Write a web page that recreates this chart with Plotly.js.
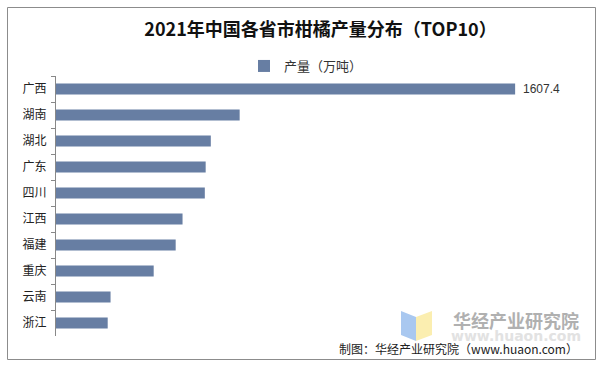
<!DOCTYPE html>
<html>
<head>
<meta charset="utf-8">
<script src="https://cdn.plot.ly/plotly-3.0.1.min.js"></script>
<style>html,body{margin:0;padding:0;background:#fff;}#chart{width:602px;height:366px;}</style>
</head>
<body>
<div id="chart"></div>
<script>
const provinces = ['广西','湖南','湖北','广东','四川','江西','福建','重庆','云南','浙江'];
const output = [1607.4, 643, 542, 524, 521, 443, 419, 342, 191, 181];
const labelledIndex = [0];
const seriesName = '产量（万吨）';
const titleText = '2021年中国各省市柑橘产量分布（TOP10）';
const sourceText = '制图：华经产业研究院（www.huaon.com）';

const L = 56, R = 585, T = 76, B = 336;
const px = x => (x - L) / (R - L);
const py = y => (B - y) / (B - T);
const cjk = '"Noto Sans CJK SC", "Noto Sans", sans-serif';

const trace = {
  type: 'bar', orientation: 'h',
  y: provinces, x: output, name: seriesName,
  marker: {color: '#677ea3'},
  hoverinfo: 'x+y'
};

const valueAnnotations = labelledIndex.map(i => ({
  x: output[i], y: provinces[i], xref: 'x', yref: 'y', text: String(output[i]),
  xanchor: 'left', yanchor: 'middle', xshift: 6, showarrow: false,
  font: {family: '"Liberation Sans", Arial, sans-serif', size: 12, color: '#333'}
}));

const layout = {
  width: 602, height: 366,
  margin: {l: L, r: 602 - R, t: T, b: 366 - B, pad: 0},
  paper_bgcolor: '#fff', plot_bgcolor: '#fff',
  title: {text: titleText, x: 0.5, xref: 'paper', y: 1 - 30/366, yanchor: 'middle',
          xanchor: 'center',
          font: {family: cjk, size: 18, color: '#111', weight: 'bold'}},
  showlegend: true,
  legend: {orientation: 'h', x: px(306), xanchor: 'center', y: py(66), yanchor: 'middle',
           font: {family: cjk, size: 13, color: '#333'}, itemwidth: 30, traceorder: 'normal'},
  bargap: 0.58,
  xaxis: {range: [0, 1852], visible: false, showgrid: false, zeroline: false, fixedrange: true},
  yaxis: {autorange: 'reversed', type: 'category', showline: true, linecolor: '#888', linewidth: 1,
          ticks: 'outside', ticklen: 4, tickcolor: '#888', tickson: 'boundaries',
          tickfont: {family: cjk, size: 12, color: '#222'}, showgrid: false, zeroline: false,
          ticklabelstandoff: 6},
  shapes: [
    {type: 'rect', xref: 'paper', yref: 'paper', x0: px(7.5), x1: px(595.5), y0: py(7.5), y1: py(359.5),
     line: {color: '#8c8c8c', width: 1}, fillcolor: 'rgba(0,0,0,0)', layer: 'below'},
    {type: 'path', xref: 'paper', yref: 'paper',
     path: `M ${px(401)} ${py(311)} L ${px(416)} ${py(317)} L ${px(416)} ${py(341)} L ${px(401)} ${py(335)} Z`,
     fillcolor: '#a9c8f0', line: {width: 0}},
    {type: 'path', xref: 'paper', yref: 'paper',
     path: `M ${px(416)} ${py(317)} L ${px(432)} ${py(311)} L ${px(432)} ${py(335)} L ${px(416)} ${py(341)} Z`,
     fillcolor: '#fbeeb0', line: {width: 0}}
  ],
  annotations: valueAnnotations.concat([
    {text: 'www.huaon.com', xref: 'paper', yref: 'paper', x: px(516), y: py(336), xanchor: 'center', yanchor: 'middle',
     showarrow: false, font: {family: '"DejaVu Sans", sans-serif', size: 14, color: '#e2e2e2', weight: 'bold'}},
    {text: '华经产业研究院', xref: 'paper', yref: 'paper', x: px(516), y: py(320), xanchor: 'center', yanchor: 'middle',
     showarrow: false, font: {family: cjk, size: 18, color: '#b0b0b0', weight: 'bold'}},
    {text: sourceText, xref: 'paper', yref: 'paper', x: px(580), y: py(348), xanchor: 'right', yanchor: 'middle',
     showarrow: false, font: {family: cjk, size: 12, color: '#222'}}
  ])
};

Plotly.newPlot('chart', [trace], layout, {displayModeBar: false, staticPlot: true});
</script>
</body>
</html>
